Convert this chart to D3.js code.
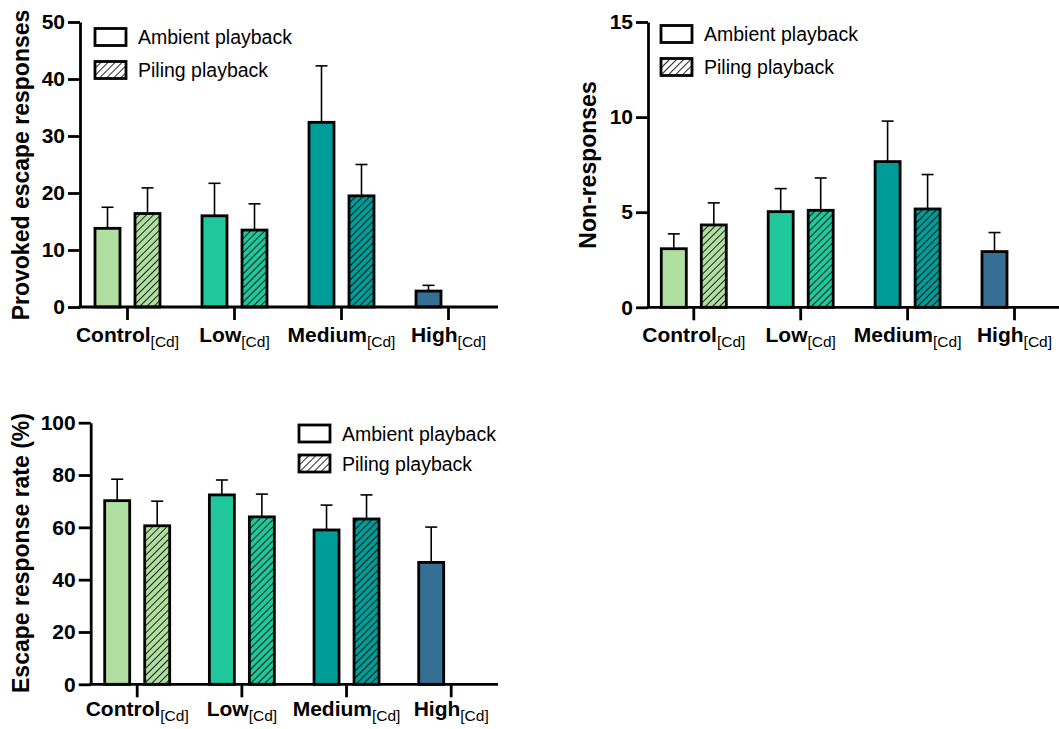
<!DOCTYPE html>
<html>
<head>
<meta charset="utf-8">
<script src="https://cdn.jsdelivr.net/npm/d3@7"></script>
<style>
  html, body { margin: 0; padding: 0; background: #fff; }
  svg { display: block; font-family: "Liberation Sans", Arial, Helvetica, sans-serif; }
</style>
</head>
<body>
<svg id="chart" width="1059" height="729"></svg>
<script>
// ---------------- DATA ----------------
const categories = ["Control", "Low", "Medium", "High"];
const series = ["Ambient playback", "Piling playback"];
const categoryColors = ["#b1dfa1", "#1fc79b", "#009c97", "#356f93"];

// Panel A: Provoked escape responses (mean, SEM)
const provokedAmbient = [13.8, 16.0, 32.4, 2.8];
const provokedAmbientSem = [3.7, 5.7, 9.9, 1.0];
const provokedPiling = [16.4, 13.5, 19.5, null];
const provokedPilingSem = [4.5, 4.6, 5.5, null];
const provokedTicks = [0, 10, 20, 30, 40, 50];

// Panel B: Non-responses
const nonAmbient = [3.08, 5.03, 7.66, 2.93];
const nonAmbientSem = [0.78, 1.21, 2.13, 1.0];
const nonPiling = [4.33, 5.1, 5.17, null];
const nonPilingSem = [1.16, 1.7, 1.81, null];
const nonTicks = [0, 5, 10, 15];

// Panel C: Escape response rate (%)
const rateAmbient = [70.2, 72.4, 59.0, 46.6];
const rateAmbientSem = [8.2, 5.7, 9.5, 13.5];
const ratePiling = [60.6, 64.0, 63.2, null];
const ratePilingSem = [9.4, 8.7, 9.2, null];
const rateTicks = [0, 20, 40, 60, 80, 100];

// --------------- LAYOUT ----------------
const panels = [
  { title: "Provoked escape responses", amb: provokedAmbient, ambSem: provokedAmbientSem,
    pil: provokedPiling, pilSem: provokedPilingSem, ticks: provokedTicks,
    left: 80, right: 498, top: 22, bottom: 307, xFirst: 127, xLast: 448,
    ylabX: 29, ylabY: 165, legX: 95, legY: [37, 70], legTextX: 138, xlabDy: 35 },
  { title: "Non-responses", amb: nonAmbient, ambSem: nonAmbientSem,
    pil: nonPiling, pilSem: nonPilingSem, ticks: nonTicks,
    left: 648, right: 1059, top: 22, bottom: 307.3, xFirst: 693.3, xLast: 1014,
    ylabX: 596, ylabY: 165, legX: 661, legY: [34, 67], legTextX: 704, xlabDy: 35 },
  { title: "Escape response rate (%)", amb: rateAmbient, ambSem: rateAmbientSem,
    pil: ratePiling, pilSem: ratePilingSem, ticks: rateTicks,
    left: 90.7, right: 498, top: 422.7, bottom: 684.3, xFirst: 136.7, xLast: 450.7,
    ylabX: 29, ylabY: 553, legX: 299, legY: [433.5, 463.5], legTextX: 342, xlabDy: 32 }
];

const svg = d3.select("#chart");
const defs = svg.append("defs");

function makeHatch(id, bg) {
  const p = defs.append("pattern")
    .attr("id", id)
    .attr("patternUnits", "userSpaceOnUse")
    .attr("width", 5).attr("height", 5)
    .attr("patternTransform", "rotate(45)");
  p.append("rect").attr("width", 5).attr("height", 5).attr("fill", bg);
  p.append("line").attr("x1", 0).attr("y1", 0).attr("x2", 0).attr("y2", 5)
    .attr("stroke", "#000").attr("stroke-width", 1.7);
}
categoryColors.forEach((c, i) => makeHatch("hatch" + i, c));
makeHatch("hatchWhite", "#fff");

const inner = d3.scaleBand().domain(series).range([-32, 33]).paddingInner(0.375).paddingOuter(0);

panels.forEach(P => {
  const g = svg.append("g");
  const y = d3.scaleLinear().domain([P.ticks[0], P.ticks[P.ticks.length - 1]]).range([P.bottom, P.top]);
  const x = d3.scalePoint().domain(categories).range([P.xFirst, P.xLast]);

  const rows = [];
  categories.forEach((c, i) => {
    rows.push({ cat: c, ci: i, s: series[0], v: P.amb[i], e: P.ambSem[i], hatch: false });
    rows.push({ cat: c, ci: i, s: series[1], v: P.pil[i], e: P.pilSem[i], hatch: true });
  });
  const data = rows.filter(d => d.v != null);
  const cx = d => x(d.cat) + inner(d.s) + inner.bandwidth() / 2;

  // error bars (upper only)
  const eb = g.append("g").selectAll("g").data(data).join("g");
  eb.append("line")
    .attr("x1", cx).attr("x2", cx)
    .attr("y1", d => y(d.v)).attr("y2", d => y(d.v + d.e))
    .attr("stroke", "#000").attr("stroke-width", 1.6);
  eb.append("line")
    .attr("x1", d => cx(d) - 6).attr("x2", d => cx(d) + 6)
    .attr("y1", d => y(d.v + d.e)).attr("y2", d => y(d.v + d.e))
    .attr("stroke", "#000").attr("stroke-width", 1.6);

  g.append("g").selectAll("rect").data(data).join("rect")
    .attr("x", d => x(d.cat) + inner(d.s))
    .attr("y", d => y(d.v))
    .attr("width", inner.bandwidth())
    .attr("height", d => y(0) - y(d.v))
    .attr("fill", d => d.hatch ? `url(#hatch${d.ci})` : categoryColors[d.ci])
    .attr("stroke", "#000").attr("stroke-width", 2.8);

  // Y axis
  const ya = g.append("g").attr("transform", `translate(${P.left},0)`)
    .call(d3.axisLeft(y).tickValues(P.ticks).tickSize(12).tickSizeOuter(0).tickPadding(3).tickFormat(d3.format("d")));
  ya.select(".domain").attr("stroke-width", 2.8).attr("stroke", "#000");
  ya.selectAll(".tick line").attr("stroke-width", 2.8).attr("stroke", "#000");
  ya.selectAll(".tick text").attr("font-size", 21).attr("font-weight", "bold").attr("fill", "#000")
    .attr("font-family", "Liberation Sans, Arial, sans-serif");

  // X axis
  g.append("line").attr("x1", P.left - 1.4).attr("x2", P.right)
    .attr("y1", P.bottom).attr("y2", P.bottom)
    .attr("stroke", "#000").attr("stroke-width", 2.8);
  const xa = g.append("g").attr("transform", `translate(0,${P.bottom})`)
    .call(d3.axisBottom(x).tickSize(13).tickSizeOuter(0).tickFormat(""));
  xa.select(".domain").remove();
  xa.selectAll(".tick line").attr("stroke-width", 2.8).attr("stroke", "#000");
  xa.selectAll(".tick text").remove();
  xa.selectAll(".tick").append("text")
    .attr("y", P.xlabDy).attr("text-anchor", "middle").attr("fill", "#000")
    .attr("font-family", "Liberation Sans, Arial, sans-serif")
    .each(function (d) {
      const t = d3.select(this);
      t.append("tspan").attr("font-size", 21).attr("font-weight", "bold").text(d);
      t.append("tspan").attr("font-size", 15.5).attr("dy", 5).text("[Cd]");
    });

  // Y label
  g.append("text")
    .attr("transform", `translate(${P.ylabX},${P.ylabY}) rotate(-90)`)
    .attr("text-anchor", "middle").attr("font-size", 23).attr("font-weight", "bold")
    .attr("fill", "#000").text(P.title);

  // Legend
  series.forEach((s, i) => {
    g.append("rect").attr("x", P.legX).attr("y", P.legY[i] - 8.5)
      .attr("width", 31).attr("height", 17)
      .attr("fill", i === 0 ? "#fff" : "url(#hatchWhite)")
      .attr("stroke", "#000").attr("stroke-width", 2.8);
    g.append("text").attr("x", P.legTextX).attr("y", P.legY[i]).attr("dy", "0.36em")
      .attr("font-size", 19.5).attr("fill", "#000").text(s);
  });
});
</script>
</body>
</html>
